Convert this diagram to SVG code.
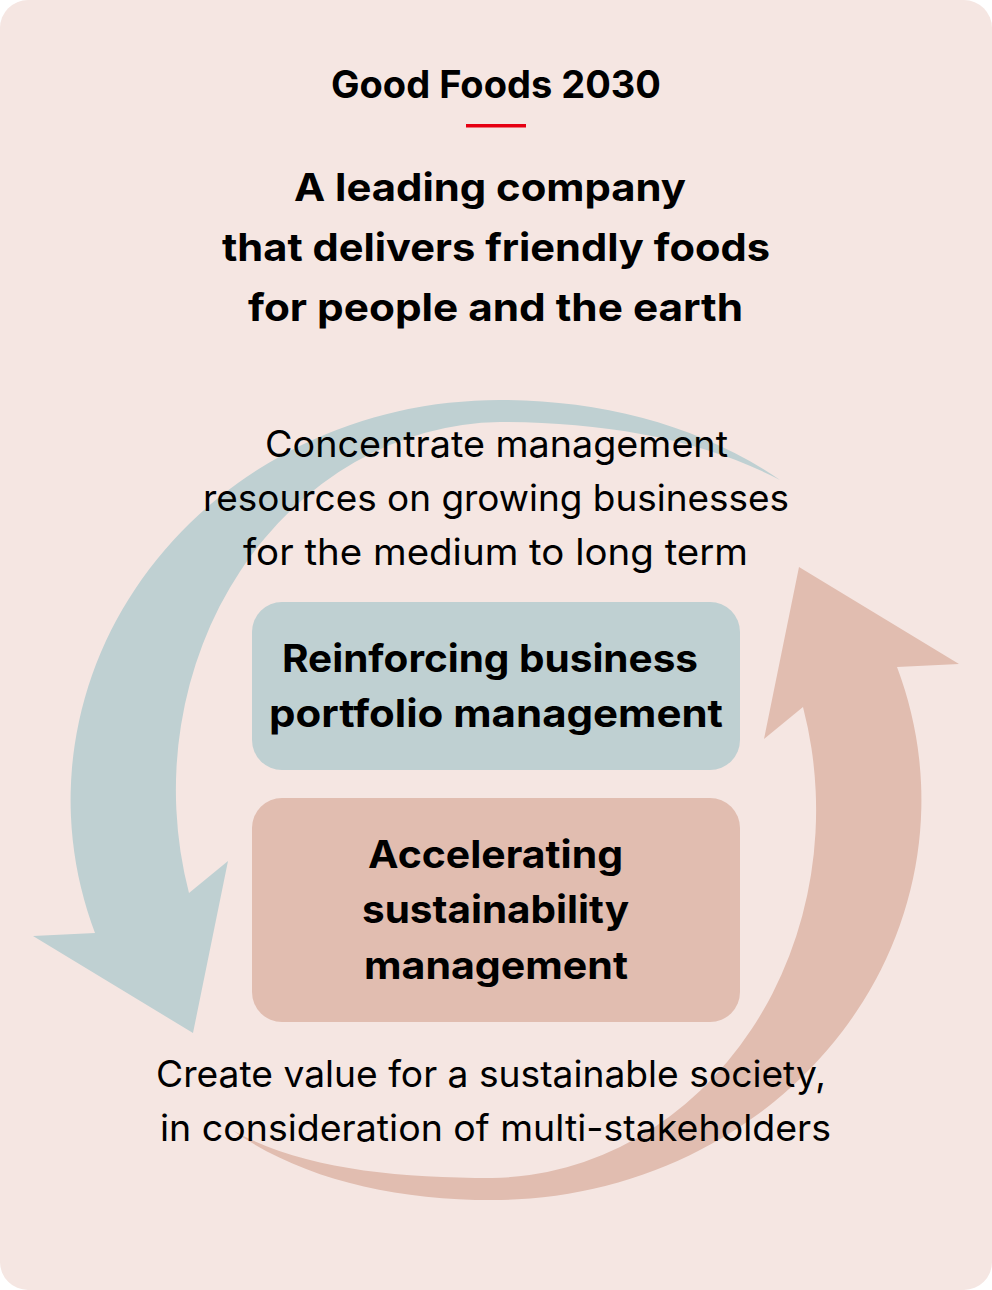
<svg xmlns="http://www.w3.org/2000/svg" width="992" height="1290" viewBox="0 0 992 1290">
  <defs>
    <style>
      .bold { font-family: Inter, "Noto Sans", "Liberation Sans", sans-serif; font-weight: 700; font-size: 38px; fill: #000; }
      .reg { font-family: Inter, "Noto Sans", "Liberation Sans", sans-serif; font-weight: 400; font-size: 37px; fill: #000; }
      .blue { fill: #BFD0D2; }
      .salmon { fill: #E1BDB0; }
    </style>
  </defs>
  <rect x="0" y="0" width="992" height="1290" fill="#FFFFFF"/>
  <rect id="background" x="0" y="0" width="992" height="1290" rx="28" ry="28" fill="#F5E6E2"/>

  <g id="connectors">
    <path id="arrow-blue" class="blue" d="M 95 933 A 429 400 0 0 1 500 400 C 600 400 700 425 780 480 C 700 438 600 422 500 422 A 328 368 0 0 0 189 893 L 228 861 L 193 1033 L 33 936 Z"/>
    <path id="arrow-salmon" class="salmon" d="M 897 667 A 429 400 0 0 1 492 1200 C 392 1200 300 1178 232 1130 C 300 1168 392 1178 492 1178 A 328 368 0 0 0 803 707 L 764 739 L 799 567 L 959 664 Z"/>
  </g>

  <g id="title">
    <text class="bold" x="331" y="98" textLength="330" lengthAdjust="spacingAndGlyphs">Good Foods 2030</text>
    <rect x="466" y="124" width="60" height="3.5" fill="#E60012"/>
  </g>

  <g id="heading">
    <text class="bold" x="294" y="201" textLength="392" lengthAdjust="spacingAndGlyphs">A leading company</text>
    <text class="bold" x="222" y="261" textLength="548" lengthAdjust="spacingAndGlyphs">that delivers friendly foods</text>
    <text class="bold" x="248" y="321" textLength="495" lengthAdjust="spacingAndGlyphs">for people and the earth</text>
  </g>

  <g id="label-top">
    <text class="reg" x="265" y="457" textLength="463" lengthAdjust="spacingAndGlyphs">Concentrate management</text>
    <text class="reg" x="203" y="511" textLength="586" lengthAdjust="spacingAndGlyphs">resources on growing businesses</text>
    <text class="reg" x="243" y="565" textLength="505" lengthAdjust="spacingAndGlyphs">for the medium to long term</text>
  </g>

  <g id="box-portfolio">
    <rect class="blue" x="252" y="602" width="488" height="168" rx="30" ry="30"/>
    <text class="bold" x="282" y="672" textLength="416" lengthAdjust="spacingAndGlyphs">Reinforcing business</text>
    <text class="bold" x="269" y="727" textLength="454" lengthAdjust="spacingAndGlyphs">portfolio management</text>
  </g>

  <g id="box-sustainability">
    <rect class="salmon" x="252" y="798" width="488" height="224" rx="30" ry="30"/>
    <text class="bold" x="368" y="868" textLength="255" lengthAdjust="spacingAndGlyphs">Accelerating</text>
    <text class="bold" x="362" y="923" textLength="267" lengthAdjust="spacingAndGlyphs">sustainability</text>
    <text class="bold" x="364" y="979" textLength="264" lengthAdjust="spacingAndGlyphs">management</text>
  </g>

  <g id="label-bottom">
    <text class="reg" x="156" y="1087" textLength="670" lengthAdjust="spacingAndGlyphs">Create value for a sustainable society,</text>
    <text class="reg" x="160" y="1141" textLength="671" lengthAdjust="spacingAndGlyphs">in consideration of multi-stakeholders</text>
  </g>
</svg>
